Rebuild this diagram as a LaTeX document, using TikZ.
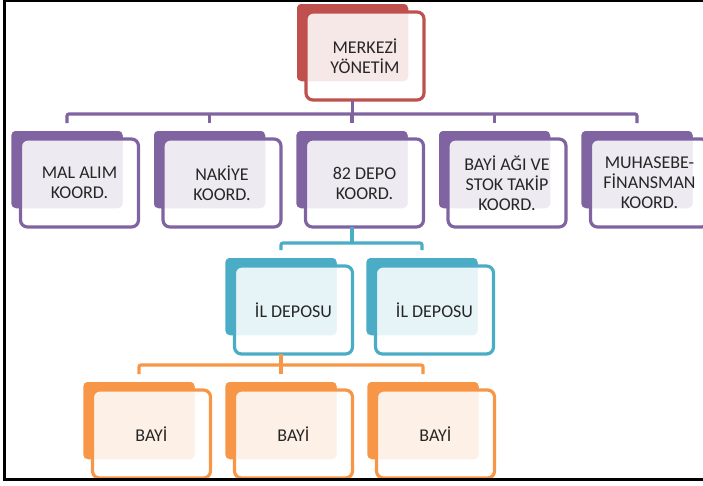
\documentclass[tikz,border=0pt]{standalone}
\usepackage{fontspec}
\usepackage{tikz}
\usetikzlibrary{positioning, calc}

\newfontfamily\orgfont{Carlito}

\definecolor{orgred}{HTML}{C0504D}
\definecolor{orgpurple}{HTML}{8064A2}
\definecolor{orgblue}{HTML}{4BACC6}
\definecolor{orgorange}{HTML}{F79646}

\tikzset{
  backbox/.style={rectangle, rounded corners=5pt, fill=#1, draw=white,
    line width=1.5pt, minimum width=113pt, minimum height=79pt,
    inner sep=0pt, outer sep=0pt},
  frontbox/.style={rectangle, rounded corners=7pt, fill=white,
    fill opacity=0.87, text opacity=1, draw=#1, line width=3.2pt,
    minimum width=118pt, minimum height=88pt, inner sep=0pt, outer sep=0pt,
    align=center, text=black!85, font=\orgfont\fontsize{18}{20}\selectfont},
  conn/.style={draw=#1, line width=3.2pt, rounded corners=2pt}
}

% box = coloured back plate (name-b) + light front plate with the text (name)
\newcommand{\orgbox}[5]{%
  \node[backbox=#4, anchor=north west] (#1-b) at (#2,#3) {};
  \node[frontbox=#4, anchor=north west] (#1)
    at ([xshift=10pt,yshift=-9pt]#1-b.north west) {#5};
}

\begin{document}
\begin{tikzpicture}[x=1pt, y=-1pt]
  \useasboundingbox (0,0) rectangle (703,485);

  % top
  \orgbox{merkezi}{296}{3}{orgred}{MERKEZİ\\YÖNETİM}

  % level 1
  \orgbox{malalim}{10.5}{130}{orgpurple}{MAL ALIM\\KOORD.}
  \orgbox{nakiye}{153}{130}{orgpurple}{NAKİYE\\KOORD.}
  \orgbox{depo}{295.5}{130}{orgpurple}{82 DEPO\\KOORD.}
  \orgbox{bayiagi}{438}{130}{orgpurple}{BAYİ AĞI VE\\STOK TAKİP\\KOORD.}
  \orgbox{muhasebe}{580.5}{130}{orgpurple}{MUHASEBE-\\FİNANSMAN\\KOORD.}

  % level 2
  \orgbox{ildepo1}{224.5}{257}{orgblue}{İL DEPOSU}
  \orgbox{ildepo2}{365.5}{257}{orgblue}{İL DEPOSU}

  % level 3
  \orgbox{bayi1}{82.5}{381}{orgorange}{BAYİ}
  \orgbox{bayi2}{224.5}{381}{orgorange}{BAYİ}
  \orgbox{bayi3}{366.5}{381}{orgorange}{BAYİ}

  % connectors
  \coordinate (bus1) at (0,114);
  \coordinate (bus2) at (0,243);
  \coordinate (bus3) at (0,365);

  \draw[conn=orgpurple] (merkezi-b.south |- merkezi.south) -- (merkezi-b.south |- bus1);
  \draw[conn=orgpurple] ([yshift=7pt]malalim-b.north) -- (malalim-b.north |- bus1)
    -- (muhasebe-b.north |- bus1) -- ([yshift=7pt]muhasebe-b.north);
  \foreach \n in {nakiye,depo,bayiagi}
    \draw[conn=orgpurple] (\n-b.north |- bus1) -- ([yshift=7pt]\n-b.north);

  \draw[conn=orgblue] (depo-b.south |- depo.south) -- (depo-b.south |- bus2);
  \draw[conn=orgblue] ([yshift=7pt]ildepo1-b.north) -- (ildepo1-b.north |- bus2)
    -- (ildepo2-b.north |- bus2) -- ([yshift=7pt]ildepo2-b.north);

  \draw[conn=orgorange] (ildepo1-b.south |- ildepo1.south) -- (ildepo1-b.south |- bus3);
  \draw[conn=orgorange] ([yshift=7pt]bayi1-b.north) -- (bayi1-b.north |- bus3)
    -- (bayi3-b.north |- bus3) -- ([yshift=7pt]bayi3-b.north);
  \draw[conn=orgorange] (bayi2-b.north |- bus3) -- ([yshift=7pt]bayi2-b.north);

  % frame
  \draw[line width=2.5pt] (703,1) -- (4.5,1) -- (4.5,479.5) -- (703,479.5);
\end{tikzpicture}
\end{document}
